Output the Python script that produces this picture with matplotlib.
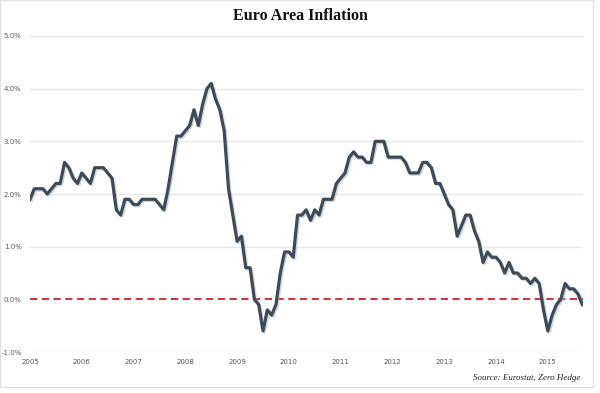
import matplotlib as mpl
mpl.use('Agg')
import matplotlib.pyplot as plt
import matplotlib.patheffects as pe
from matplotlib.patches import Rectangle
import numpy as np

# monthly HICP annual rate, Jan 2005 - Sep 2015
inflation = [
    1.9, 2.1, 2.1, 2.1, 2.0, 2.1, 2.2, 2.2, 2.6, 2.5, 2.3, 2.2,   # 2005
    2.4, 2.3, 2.2, 2.5, 2.5, 2.5, 2.4, 2.3, 1.7, 1.6, 1.9, 1.9,   # 2006
    1.8, 1.8, 1.9, 1.9, 1.9, 1.9, 1.8, 1.7, 2.1, 2.6, 3.1, 3.1,   # 2007
    3.2, 3.3, 3.6, 3.3, 3.7, 4.0, 4.1, 3.8, 3.6, 3.2, 2.1, 1.6,   # 2008
    1.1, 1.2, 0.6, 0.6, 0.0, -0.1, -0.6, -0.2, -0.3, -0.1, 0.5, 0.9,  # 2009
    0.9, 0.8, 1.6, 1.6, 1.7, 1.5, 1.7, 1.6, 1.9, 1.9, 1.9, 2.2,   # 2010
    2.3, 2.4, 2.7, 2.8, 2.7, 2.7, 2.6, 2.6, 3.0, 3.0, 3.0, 2.7,   # 2011
    2.7, 2.7, 2.7, 2.6, 2.4, 2.4, 2.4, 2.6, 2.6, 2.5, 2.2, 2.2,   # 2012
    2.0, 1.8, 1.7, 1.2, 1.4, 1.6, 1.6, 1.3, 1.1, 0.7, 0.9, 0.8,   # 2013
    0.8, 0.7, 0.5, 0.7, 0.5, 0.5, 0.4, 0.4, 0.3, 0.4, 0.3, -0.2,  # 2014
    -0.6, -0.3, -0.1, 0.0, 0.3, 0.2, 0.2, 0.1, -0.1,              # 2015
]
years = list(range(2005, 2016))
y_ticks = [-1.0, 0.0, 1.0, 2.0, 3.0, 4.0, 5.0]

dates = 2005 + np.arange(len(inflation)) / 12.0

fig = plt.figure(figsize=(6, 3.93), dpi=100)
ax = fig.add_axes([0.05, 0.1043, 0.9217, 0.8041])

# grid
for v in y_ticks:
    if v != 0:
        ax.axhline(v, color='#e8e8e8', lw=1.0, zorder=1)
ax.axhline(0, color='#d0212b', lw=1.3, ls=(0, (4, 2.5)), zorder=2)

ax.plot(dates, inflation, color='#3d4a5a', lw=2.3, solid_joinstyle='round', zorder=3,
        path_effects=[pe.SimpleLineShadow(offset=(1.0, -1.0), shadow_color='#aab2bb', alpha=0.5),
                      pe.Normal()])

ax.set_xlim(2005, 2015.68)
ax.set_ylim(-1.0, 5.0)
ax.set_yticks(y_ticks)
ax.set_yticklabels(['%.1f%%' % v for v in y_ticks])
ax.set_xticks(years)
ax.set_xticklabels([str(y) for y in years])
ax.tick_params(length=0, labelsize=5, labelcolor='#555555', pad=5)
ax.tick_params(axis='y', pad=6)
for s in ax.spines.values():
    s.set_visible(False)

fig.text(0.5, 0.96, 'Euro Area Inflation', ha='center', va='center',
         family='Liberation Serif', weight='bold', fontsize=11.5, color='#111111')
fig.text(0.967, 0.038, 'Source: Eurostat, Zero Hedge', ha='right', va='center',
         family='Liberation Serif', style='italic', fontsize=6.5, color='#222222')

fig.patches.append(Rectangle((0.0, 0.015), 0.988, 0.985, transform=fig.transFigure,
                             fill=False, edgecolor='#e2e2e2', lw=1.0))

fig.savefig('out.png', dpi=100)
